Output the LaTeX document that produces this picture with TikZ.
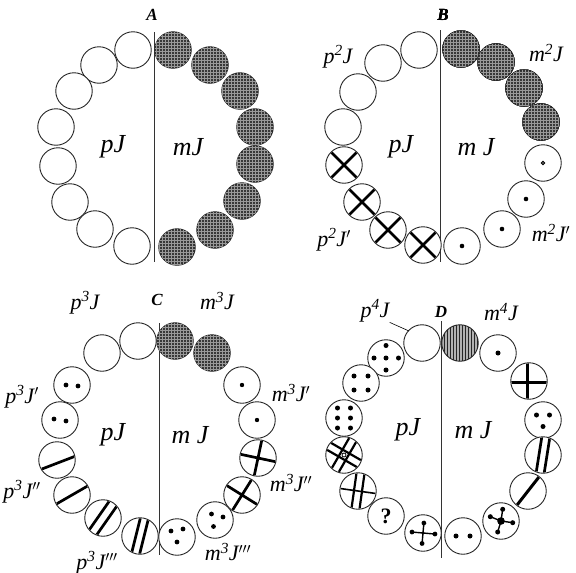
\documentclass[tikz,border=0pt]{standalone}
\usepackage{fontspec}
\setmainfont{Liberation Serif}
\usetikzlibrary{patterns}
\newcommand\inside[2]{\begin{scope}[shift={(#1.center)},yscale=-1]\clip (0,0) circle (17.6pt); #2\end{scope}}
\begin{document}
\begin{tikzpicture}[x=1pt,y=-1pt,
 ring/.style={circle,draw=black!85,fill=white,line width=0.9pt,minimum size=36.5pt,inner sep=0pt},
 full/.style={ring,fill=black!78,postaction={pattern=grid,pattern color=black!40}},
 vhatch/.style={ring,fill=black!30,postaction={pattern=vertical lines,pattern color=black!85}},
 stroketwo/.style={line width=2.7pt},
 strokeone/.style={line width=1.4pt},
 lab/.style={font=\fontsize{22}{22}\selectfont\itshape,inner sep=0pt},
 bigl/.style={font=\fontsize{26}{26}\selectfont\itshape,inner sep=0pt},
 head/.style={font=\fontsize{17}{17}\selectfont\bfseries\itshape,inner sep=0pt},
 midline/.style={line width=0.8pt,draw=black!80},
 qmark/.style={ring,font=\fontsize{22}{22}\selectfont\bfseries}
]
\useasboundingbox (0,0) rectangle (576,573);
\fill[white] (0,0) rectangle (576,573);
% ---------------- Panel A
\coordinate (at) at (154,32); \coordinate (ab) at (154,262);
\draw[midline] (at) -- (ab);
\foreach \n/\x/\y in {1/133/50,2/99/65,3/74/91,4/56/127,5/58/166,6/70/202,7/95/229,8/132/246}
  \node[ring] (al\n) at (\x,\y) {};
\foreach \n/\x/\y in {1/173/50,2/210/65,3/240/91,4/255/127,5/255/164,6/242/201,7/215/230,8/177/247}
  \node[full] (ar\n) at (\x,\y) {};
\node[head] (lA) at (152,15) {A};
\node[bigl] (pA) at (113,147) {pJ};
\node[bigl] (mA) at (188,147) {mJ};
% ---------------- Panel B
\coordinate (bt) at (440,30); \coordinate (bb) at (440,262);
\draw[midline] (bt) -- (bb);
\foreach \n/\x/\y in {1/419/50,2/383/63,3/358/92,4/343/127,5/344/165,6/362/202,7/388/230,8/423/245}
  \node[ring] (bl\n) at (\x,\y) {};
\foreach \n in {5,6,7,8}
  \inside{bl\n}{\draw[stroketwo,rotate=-45] (-20,0)--(20,0) (0,-20)--(0,20);}
\foreach \n/\x/\y in {1/461/49,2/496/62,3/524/88,4/541/122}
  \node[full] (br\n) at (\x,\y) {};
\foreach \n/\x/\y in {5/543/163,6/526/199,7/502/229,8/462/246}
  \node[ring] (br\n) at (\x,\y) {};
\inside{br5}{\draw[line width=1pt] (0,0) circle (1.6pt);}
\foreach \n in {6,7,8}
  \inside{br\n}{\fill (0,0) circle (2.3pt);}
\node[head] (lB) at (443,15) {B};
\node[lab] (p2J) at (338,57) {p\textsuperscript{2}J};
\node[lab] (m2J) at (546,53) {m\textsuperscript{2}J};
\node[bigl] (pB) at (401,147) {pJ};
\node[bigl] (mB) at (476,147) {m J};
\node[lab] (p2Jp) at (334,240) {p\textsuperscript{2}J$'$};
\node[lab] (m2Jp) at (551,233) {m\textsuperscript{2}J$'$};
% ---------------- Panel C
\coordinate (ct) at (159,323); \coordinate (cb) at (159,555);
\draw[midline] (ct) -- (cb);
\foreach \n/\x/\y in {1/138/341,2/102/353,3/72/385,4/60/420,5/57/460,6/72/495,7/103/518,8/140/536}
  \node[ring] (cl\n) at (\x,\y) {};
\inside{cl3}{\fill (-6,0) circle (2.4pt) (6,-1) circle (2.4pt);}
\inside{cl4}{\fill (-6,1) circle (2.4pt) (6,-1) circle (2.4pt);}
\inside{cl5}{\draw[stroketwo,rotate=-21] (-20,-3)--(20,-3);}
\inside{cl6}{\draw[stroketwo,rotate=-30] (-20,0)--(20,0);}
\inside{cl7}{\draw[stroketwo,rotate=-55] (-20,-4.5)--(20,-4.5) (-20,4.5)--(20,4.5);}
\inside{cl8}{\draw[stroketwo,rotate=-76] (-20,-4)--(20,-4) (-20,4)--(20,4);}
\foreach \n/\x/\y in {1/175/341,2/212/353}
  \node[full] (cr\n) at (\x,\y) {};
\foreach \n/\x/\y in {3/242/385,4/257/420,5/258/458,6/242/495,7/215/520,8/177/537}
  \node[ring] (cr\n) at (\x,\y) {};
\inside{cr3}{\fill (0,0) circle (2.2pt);}
\inside{cr4}{\fill (0,0) circle (2.2pt);}
\inside{cr5}{\draw[stroketwo,rotate=12] (-20,0)--(20,0) (0,-20)--(0,20);}
\inside{cr6}{\draw[stroketwo,rotate=32] (-20,0)--(20,0) (0,-20)--(0,20);}
\inside{cr7}{\fill (-3.5,6) circle (2.4pt) (8,3) circle (2.4pt) (-1.5,-6.5) circle (2.4pt);}
\inside{cr8}{\fill (-6,6) circle (2.4pt) (6,8) circle (2.4pt) (0,-5) circle (2.4pt);}
\node[head] (lC) at (157,300) {C};
\node[lab] (p3J) at (85,303) {p\textsuperscript{3}J};
\node[lab] (m3J) at (217,301) {m\textsuperscript{3}J};
\node[lab] (p3Jp) at (22,397) {p\textsuperscript{3}J$'$};
\node[lab] (p3Jpp) at (22,492) {p\textsuperscript{3}J$''$};
\node[lab] (p3Jppp) at (97,563) {p\textsuperscript{3}J$'''$};
\node[lab] (m3Jp) at (291,393) {m\textsuperscript{3}J$'$};
\node[lab] (m3Jpp) at (291,483) {m\textsuperscript{3}J$''$};
\node[lab] (m3Jppp) at (228,552) {m\textsuperscript{3}J$'''$};
\node[bigl] (pC) at (113,435) {pJ};
\node[bigl] (mC) at (190,435) {m J};
% ---------------- Panel D
\coordinate (dt) at (441,321); \coordinate (db) at (441,558);
\draw[midline] (dt) -- (db);
\foreach \n/\x/\y in {1/422/343,2/386/358,3/361/383,4/344/418,5/344/455,6/358/491,8/423/533}
  \node[ring] (dl\n) at (\x,\y) {};
\node[qmark] (dl7) at (386,516) {?};
\inside{dl2}{\fill (0,0) circle (2.5pt) (0,12.5) circle (2.5pt) (0,-12) circle (2.5pt) (-12,0) circle (2.5pt) (12.5,0) circle (2.5pt);}
\inside{dl3}{\fill (-7,7) circle (2.5pt) (7,7) circle (2.5pt) (-7,-7) circle (2.5pt) (7,-7) circle (2.5pt);}
\inside{dl4}{\foreach \yy in {-10,0,10}{\fill (-6.5,\yy) circle (2.5pt) (6.5,\yy) circle (2.5pt);}}
\inside{dl5}{\draw[line width=2.2pt,rotate=30] (-20,-4)--(20,-4) (-20,4)--(20,4) (-4,-20)--(-4,20) (4,-20)--(4,20);
  \filldraw[fill=white,line width=0.8pt] (0,0) circle (2pt);}
\inside{dl6}{\draw[line width=2.2pt,rotate=8] (-4,-20)--(-4,20) (4,-20)--(4,20);
  \draw[line width=1.6pt,rotate=8] (-20,0)--(20,0);}
\inside{dl8}{\begin{scope}[rotate=5]
  \draw[strokeone] (0,-10.5)--(0,10) (-11,0)--(12,0);
  \fill (0,-10.5) circle (2.4pt) (0,10) circle (2.4pt) (-11,0) circle (2.4pt) (12,0) circle (2.4pt) (0,0) circle (1.5pt);
  \end{scope}}
\node[vhatch] (dr1) at (460,343) {};
\foreach \n/\x/\y in {2/498/353,3/529/381,4/543/420,5/543/455,6/528/491,7/501/521,8/463/536}
  \node[ring] (dr\n) at (\x,\y) {};
\inside{dr2}{\fill (0,0) circle (2.5pt);}
\inside{dr3}{\draw[line width=3pt] (-1.5,-20)--(-1.5,20) (-20,-1)--(20,-1);}
\inside{dr4}{\fill (-6.5,5) circle (2.5pt) (6.5,5) circle (2.5pt) (0,-6.5) circle (2.5pt);}
\inside{dr5}{\draw[stroketwo,rotate=-81] (-20,-4)--(20,-4) (-20,4)--(20,4);}
\inside{dr6}{\draw[line width=3pt,rotate=-52] (-20,0)--(20,0);}
\inside{dr7}{\draw[strokeone] (0,0)--(1.7,11.7) (0,0)--(11.7,-1.7) (0,0)--(-3.3,-11) (0,0)--(-10.7,4.3);
  \fill (0,0) circle (3.8pt) (1.7,11.7) circle (2.5pt) (11.7,-1.7) circle (2.5pt) (-3.3,-11) circle (2.5pt) (-10.7,4.3) circle (2.5pt);}
\inside{dr8}{\fill (-7,0) circle (2.5pt) (7,0) circle (2.5pt);}
\node[head] (lD) at (441,312) {D};
\node[lab] (p4J) at (375,311) {p\textsuperscript{4}J};
\node[lab] (m4J) at (501,312) {m\textsuperscript{4}J};
\coordinate (lead) at (409,331);
\draw[line width=0.6pt] (p4J.south east) -- (lead);
\node[bigl] (pD) at (408,430) {pJ};
\node[bigl] (mD) at (473,430) {m J};
\end{tikzpicture}
\end{document}
